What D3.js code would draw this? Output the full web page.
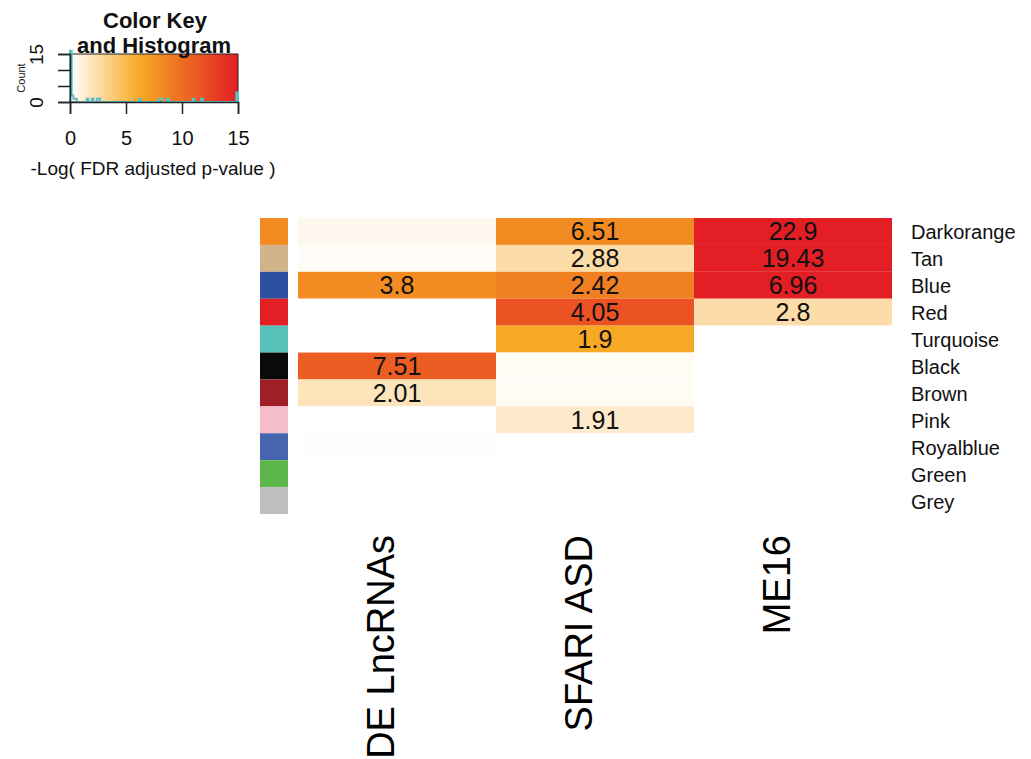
<!DOCTYPE html>
<html>
<head>
<meta charset="utf-8">
<script src="https://cdn.jsdelivr.net/npm/d3@7"></script>
<style>
  html, body { margin: 0; padding: 0; background: #fff; }
  svg { display: block; font-family: "Liberation Sans", Arial, sans-serif; }
</style>
</head>
<body>
<svg id="chart" width="1031" height="759"></svg>
<script>
// ---------------- data ----------------
const rows = ["Darkorange", "Tan", "Blue", "Red", "Turquoise", "Black", "Brown", "Pink", "Royalblue", "Green", "Grey"];
const rowColors = ["#F38B20", "#D2B48C", "#2F4FA0", "#E41E25", "#57C2BA", "#0A0A0A", "#A01F26", "#F5BDCC", "#4565AF", "#5CB748", "#BEBEBE"];
const columns = ["DE  LncRNAs", "SFARI ASD", "ME16"];

// -log(FDR adjusted p-value), drives cell colour (clipped at 15)
const deLncValues    = [0.5, 0.2, 8.0, 0, 0, 11.0, 1.95, 0, 0.1, 0, 0];
const sfariValues    = [8.1, 2.55, 8.8, 11.7, 6.2, 0.25, 0.3, 1.5, 0, 0, 0];
const me16Values     = [15, 15, 15, 2.5, 0, 0, 0, 0, 0, 0, 0];

// printed cell notes
const deLncNotes  = ["", "", "3.8", "", "", "7.51", "2.01", "", "", "", ""];
const sfariNotes  = ["6.51", "2.88", "2.42", "4.05", "1.9", "", "", "1.91", "", "", ""];
const me16Notes   = ["22.9", "19.43", "6.96", "2.8", "", "", "", "", "", "", ""];

const keyTicks = [0, 5, 10, 15];
const countTicks = [0, 5, 10, 15];

// ---------------- build ----------------
const valueCols = [deLncValues, sfariValues, me16Values];
const noteCols = [deLncNotes, sfariNotes, me16Notes];
const cells = [];
columns.forEach((c, ci) => rows.forEach((r, ri) => {
  cells.push({ col: c, row: r, value: valueCols[ci][ri], note: noteCols[ci][ri] });
}));

const svg = d3.select("#chart");

const color = d3.scaleLinear()
  .domain([0, 6.3, 15])
  .range(["#FFFFFF", "#F7A823", "#E31E24"])
  .clamp(true);

const x = d3.scaleBand().domain(columns).range([298, 892]);
const y = d3.scaleBand().domain(rows).range([218, 514]);

// cells
svg.append("g").selectAll("rect")
  .data(cells).join("rect")
  .attr("x", d => x(d.col))
  .attr("y", d => y(d.row))
  .attr("width", x.bandwidth())
  .attr("height", y.bandwidth())
  .attr("fill", d => color(d.value));

// notes
svg.append("g").selectAll("text")
  .data(cells.filter(d => d.note !== "")).join("text")
  .attr("x", d => x(d.col) + x.bandwidth() / 2)
  .attr("y", d => y(d.row) + y.bandwidth() / 2 + 9)
  .attr("text-anchor", "middle")
  .attr("font-size", 25)
  .attr("fill", "#111")
  .text(d => d.note);

// row side colours
svg.append("g").selectAll("rect")
  .data(rows).join("rect")
  .attr("x", 260)
  .attr("width", 28)
  .attr("y", d => y(d))
  .attr("height", y.bandwidth())
  .attr("fill", (d, i) => rowColors[i]);

// row labels
svg.append("g").selectAll("text")
  .data(rows).join("text")
  .attr("x", 911)
  .attr("y", d => y(d) + y.bandwidth() / 2 + 8)
  .attr("font-size", 20)
  .attr("fill", "#111")
  .text(d => d);

// column labels
svg.append("g").selectAll("text")
  .data(columns).join("text")
  .attr("transform", d => `translate(${x(d) + x.bandwidth() / 2 - 3},535) rotate(-90)`)
  .attr("text-anchor", "end")
  .attr("font-size", 38)
  .attr("fill", "#000")
  .text(d => d);

// ---------------- colour key ----------------
const kx = d3.scaleLinear().domain([0, 15]).range([70, 238]);
const ky = d3.scaleLinear().domain([0, 15]).range([102, 54]);

const defs = svg.append("defs");
const grad = defs.append("linearGradient").attr("id", "keygrad");
d3.range(0, 15.01, 0.5).forEach(v => {
  grad.append("stop").attr("offset", (v / 15 * 100) + "%").attr("stop-color", color(v));
});
svg.append("rect")
  .attr("x", kx(0)).attr("y", ky(15))
  .attr("width", kx(15) - kx(0)).attr("height", ky(0) - ky(15))
  .attr("fill", "url(#keygrad)")
  .attr("stroke", "#222").attr("stroke-width", 1);

// histogram of all values
const allValues = cells.map(d => Math.min(d.value, 15));
const binner = d3.bin().domain([0, 15]).thresholds(d3.range(0, 15, 15 / 100));
const bins = binner(allValues);
let pts = [[kx(0), ky(0)]];
bins.forEach(b => {
  pts.push([kx(b.x0), ky(b.length)]);
  pts.push([kx(b.x1), ky(b.length)]);
});
pts.push([kx(15), ky(0)]);
svg.append("path")
  .attr("d", d3.line()(pts))
  .attr("fill", "none")
  .attr("stroke", "#5BBFC8")
  .attr("stroke-width", 2);

// x axis of key
const xAxis = svg.append("g")
  .attr("transform", `translate(0,${ky(0)})`)
  .call(d3.axisBottom(kx).tickValues(keyTicks).tickSize(12).tickPadding(17).tickFormat(d3.format("d")));
xAxis.select(".domain").attr("stroke", "#222").attr("stroke-width", 1.5);
xAxis.selectAll(".tick line").attr("stroke", "#222").attr("stroke-width", 1.5);
xAxis.selectAll("text").attr("font-size", 20).attr("fill", "#111").attr("font-family", "Liberation Sans, Arial, sans-serif");

// y axis of key (Count)
const yAxis = svg.append("g")
  .attr("transform", `translate(${kx(0)},0)`)
  .call(d3.axisLeft(ky).tickValues(countTicks).tickSize(12).tickFormat(d => (d === 0 || d === 15) ? d : ""));
yAxis.select(".domain").attr("stroke", "#222").attr("stroke-width", 1.5);
yAxis.selectAll(".tick line").attr("stroke", "#222").attr("stroke-width", 1.5);
yAxis.selectAll("text")
  .attr("font-size", 19).attr("fill", "#111")
  .attr("font-family", "Liberation Sans, Arial, sans-serif")
  .attr("x", null).attr("dy", null)
  .attr("text-anchor", "middle")
  .attr("transform", "translate(-27,0) rotate(-90)");

svg.append("text")
  .attr("transform", `translate(25,${(ky(0) + ky(15)) / 2}) rotate(-90)`)
  .attr("text-anchor", "middle")
  .attr("font-size", 11)
  .attr("fill", "#111")
  .text("Count");

svg.append("text")
  .attr("x", 153).attr("y", 175)
  .attr("text-anchor", "middle")
  .attr("font-size", 19)
  .attr("fill", "#111")
  .text("-Log( FDR adjusted p-value )");

svg.append("text")
  .attr("x", 155).attr("y", 28)
  .attr("text-anchor", "middle")
  .attr("font-size", 22).attr("font-weight", "bold")
  .attr("fill", "#111")
  .text("Color Key");
svg.append("text")
  .attr("x", 154).attr("y", 53)
  .attr("text-anchor", "middle")
  .attr("font-size", 22).attr("font-weight", "bold")
  .attr("fill", "#111")
  .text("and Histogram");
</script>
</body>
</html>
